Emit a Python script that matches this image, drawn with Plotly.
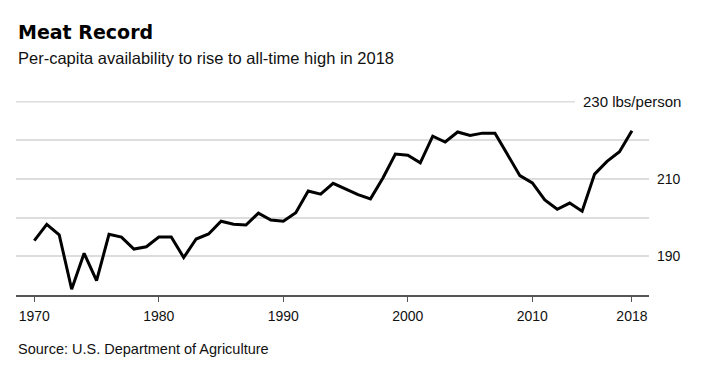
import plotly.graph_objects as go

years = list(range(1970, 2019))
lbs_per_person = [
    194.1, 198.3, 195.6, 181.5, 190.8, 183.7, 195.7, 195.0, 191.9, 192.5,
    195.0, 195.0, 189.7, 194.5, 195.8, 199.1, 198.3, 198.1, 201.2, 199.4,
    199.1, 201.3, 206.9, 206.1, 208.9, 207.4, 206.0, 204.9, 210.3, 216.5,
    216.2, 214.2, 221.1, 219.6, 222.2, 221.3, 221.9, 221.9, 216.3, 210.9,
    209.0, 204.6, 202.2, 203.8, 201.7, 211.3, 214.6, 217.1, 222.5,
]
x_tick_vals = [1970, 1980, 1990, 2000, 2010, 2018]
x_tick_text = ["1970", "1980", "1990", "2000", "2010", "2018"]
grid_vals = [190, 200, 210, 220]
y_labels = {230: "230 lbs/person", 210: "210", 190: "190"}

# page body has an 8px margin, so work in page coordinates minus 8
OFF = 8
W, H = 716 - OFF, 377 - OFF
L = 16 - OFF
R = 716 - 649
T = 98.4 - OFF
B = 377 - 295
PW, PH = W - L - R, H - T - B

def px(xp):
    return (xp - OFF - L) / PW

def py(yp):
    return (H - B - (yp - OFF)) / PH

FONT = "Liberation Sans, Arial, sans-serif"

fig = go.Figure()
fig.add_trace(go.Scatter(
    x=years, y=lbs_per_person, mode="lines",
    line=dict(color="#000000", width=3), hoverinfo="skip", showlegend=False,
))

annotations = [
    dict(text="<b>Meat Record</b>", x=px(16), y=py(33), xref="paper", yref="paper",
         xanchor="left", yanchor="middle", showarrow=False,
         font=dict(family="DejaVu Sans, sans-serif", size=19, color="#000")),
    dict(text="Per-capita availability to rise to all-time high in 2018", x=px(16), y=py(58),
         xref="paper", yref="paper", xanchor="left", yanchor="middle", showarrow=False,
         font=dict(family=FONT, size=16.5, color="#111")),
    dict(text="Source: U.S. Department of Agriculture", x=px(16), y=py(349),
         xref="paper", yref="paper", xanchor="left", yanchor="middle", showarrow=False,
         font=dict(family=FONT, size=14.5, color="#111")),
]
for v, t in y_labels.items():
    annotations.append(dict(text=t, x=px(683), y=v, xref="paper", yref="y",
                            xanchor="right", yanchor="middle", showarrow=False,
                            font=dict(family=FONT, size=15 if v == 230 else 14, color="#111")))

shapes = [
    dict(type="line", xref="paper", yref="y", x0=0, x1=px(575), y0=230, y1=230,
         line=dict(color="#dddddd", width=1.5), layer="below"),
]

fig.update_layout(
    width=W, height=H,
    margin=dict(l=L, r=R, t=T, b=B, pad=0),
    paper_bgcolor="white", plot_bgcolor="white",
    showlegend=False,
    annotations=annotations,
    shapes=shapes,
    xaxis=dict(
        range=[1968.53, 2019.37], tickvals=x_tick_vals, ticktext=x_tick_text,
        showgrid=False, zeroline=False, showline=True, linecolor="#555555", linewidth=1.5,
        ticks="outside", ticklen=5, tickwidth=1.2, tickcolor="#555555",
        ticklabelstandoff=2,
        tickfont=dict(family=FONT, size=14, color="#111"), fixedrange=True,
    ),
    yaxis=dict(
        range=[180, 231], tickvals=grid_vals, showticklabels=False,
        showgrid=True, gridcolor="#dddddd", gridwidth=1.5, zeroline=False,
        showline=False, ticks="", fixedrange=True,
    ),
)

fig.write_html("out.html")
